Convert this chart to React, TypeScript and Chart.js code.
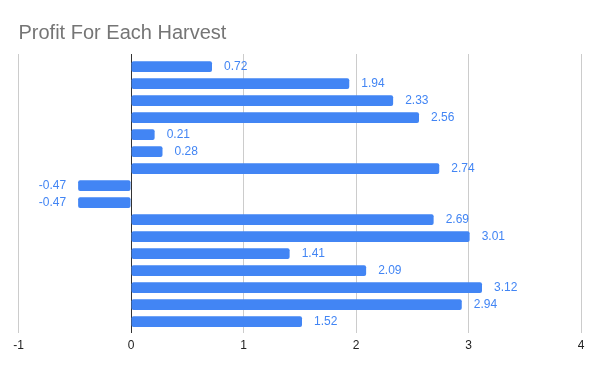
import React, { useEffect, useRef } from "react";
import { Chart, registerables } from "chart.js";

Chart.register(...registerables);

const categories: number[] = [0, 1, 2, 3, 4, 5, 6, 7, 8, 9, 10, 11, 12, 13, 14, 15];
const profits: number[] = [
  0.72, 1.94, 2.33, 2.56, 0.21, 0.28, 2.74, -0.47,
  -0.47, 2.69, 3.01, 1.41, 2.09, 3.12, 2.94, 1.52,
];
const chartTitle = "Profit For Each Harvest";
const xMin = -1;
const xMax = 4;
const FONT = "'Liberation Sans', Arial, sans-serif";

const barLabels = {
  id: "barLabels",
  afterDatasetsDraw(chart: any) {
    const { ctx } = chart;
    const meta = chart.getDatasetMeta(0);
    ctx.save();
    ctx.font = "12px " + FONT;
    ctx.fillStyle = "#4285f4";
    ctx.textBaseline = "middle";
    meta.data.forEach((bar: any, i: number) => {
      const v = profits[i];
      const txt = v.toFixed(2);
      if (v >= 0) {
        ctx.textAlign = "left";
        ctx.fillText(txt, bar.x + 12, bar.y);
      } else {
        ctx.textAlign = "right";
        ctx.fillText(txt, bar.x - 12, bar.y);
      }
    });
    ctx.restore();
  },
};

export default function App() {
  const ref = useRef<HTMLCanvasElement>(null);
  useEffect(() => {
    if (!ref.current) return;
    const chart = new Chart(ref.current, {
      type: "bar",
      data: {
        datasets: [
          {
            data: profits.map((v, i) => ({ x: v, y: categories[i] })),
            backgroundColor: "#4285f4",
            borderRadius: 2,
            borderSkipped: false,
            barPercentage: 0.63,
            categoryPercentage: 1,
          },
        ],
      },
      options: {
        indexAxis: "y",
        animation: false,
        responsive: true,
        maintainAspectRatio: false,
        layout: { padding: { left: 18.5, right: 19, top: 21, bottom: 12 } },
        plugins: {
          legend: { display: false },
          tooltip: { enabled: false },
          title: {
            display: true,
            text: chartTitle,
            align: "start",
            color: "#757575",
            font: { family: FONT, size: 20, weight: "normal" },
            padding: { top: 0, bottom: 9 },
          },
        },
        scales: {
          x: {
            type: "linear",
            min: xMin,
            max: xMax,
            ticks: {
              stepSize: 1,
              color: "#222",
              font: { family: FONT, size: 12 },
              padding: 6,
            },
            grid: {
              drawTicks: false,
              color: (c: any) => (c.tick && c.tick.value === 0 ? "#333" : "#ccc"),
            },
            border: { display: false },
          },
          y: {
            type: "linear",
            reverse: true,
            offset: false,
            min: -0.737,
            max: 15.648,
            display: false,
          },
        },
      },
      plugins: [barLabels],
    });
    return () => chart.destroy();
  }, []);
  return (
    <div style={{ position: "fixed", left: 0, top: 0, width: 600, height: 371, background: "#fff" }}>
      <canvas ref={ref} />
    </div>
  );
}
